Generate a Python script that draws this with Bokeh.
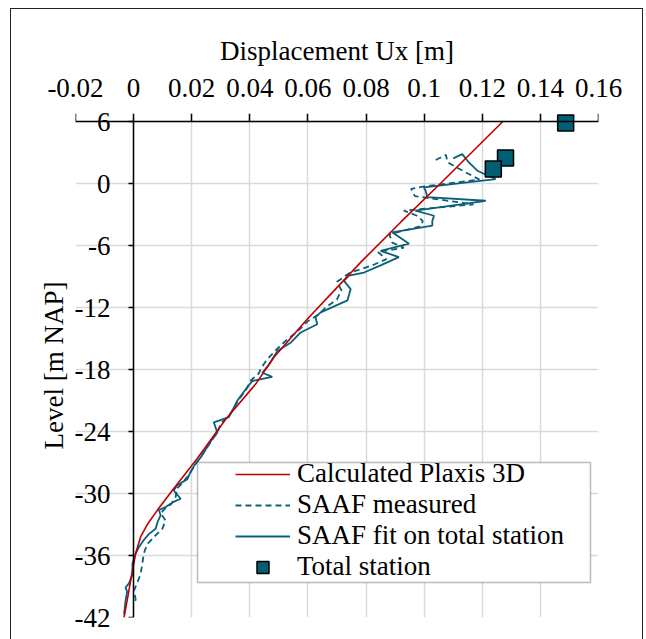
from bokeh.plotting import figure
from bokeh.models import FixedTicker, Legend, LegendItem, BoxAnnotation, Range1d, LinearAxis
from bokeh.embed import file_html
from bokeh.resources import INLINE

# ---- axis ticks / labels ----
x_ticks = [-0.02, 0, 0.02, 0.04, 0.06, 0.08, 0.1, 0.12, 0.14, 0.16]
x_tick_labels = ["-0.02", "0", "0.02", "0.04", "0.06", "0.08", "0.1", "0.12", "0.14", "0.16"]
y_ticks = [-42, -36, -30, -24, -18, -12, -6, 0, 6]
y_tick_labels = ["-42", "-36", "-30", "-24", "-18", "-12", "-6", "0", "6"]

# ---- series ----
plaxis_x = [-0.0033, -0.0020, -0.0010, 0.0007, 0.0024, 0.0047, 0.0082, 0.0133, 0.0219,
            0.0317, 0.0420, 0.0483, 0.0598, 0.0690, 0.0787, 0.0920, 0.1055, 0.1204, 0.1270]
plaxis_y = [-42.0, -40.0, -38.4, -35.8, -34.2, -33.0, -31.6, -29.7, -26.6,
            -22.8, -19.4, -16.8, -13.1, -10.35, -7.45, -3.7, 0.0, 4.16, 6.0]

saaf_meas_x = [0.1040, 0.1075, 0.1080, 0.1110, 0.1190, 0.0990, 0.0955, 0.0968, 0.1170, 0.0930,
               0.0975, 0.0995, 0.0990, 0.0880, 0.0890, 0.0930, 0.0840, 0.0870, 0.0830, 0.0780,
               0.0745, 0.0700, 0.0715, 0.0700, 0.0660, 0.0640, 0.0600, 0.0575, 0.0555, 0.0520,
               0.0490, 0.0460, 0.0440, 0.0430, 0.0405, 0.0390, 0.0360, 0.0330, 0.0300, 0.0290,
               0.0265, 0.0235, 0.0210, 0.0190, 0.0170, 0.0150, 0.0145, 0.0130, 0.0110, 0.0093,
               0.0110, 0.0099, 0.0070, 0.0047, 0.0035, 0.0030, 0.0024, 0.0013, 0.0001, 0.0007,
               0.0005]
saaf_meas_y = [2.30, 2.80, 2.10, 1.60, 0.40, -0.30, -0.50, -1.20, -2.00, -2.60,
               -3.10, -3.60, -4.10, -4.90, -5.70, -6.20, -6.60, -7.30, -7.80, -8.30,
               -8.60, -9.50, -10.30, -11.20, -12.00, -12.60, -13.30, -14.00, -14.50, -15.30,
               -16.10, -17.00, -17.80, -18.40, -19.00, -19.80, -21.00, -22.40, -23.20, -24.00,
               -25.00, -26.30, -27.30, -28.20, -28.90, -29.50, -30.30, -31.00, -31.40, -31.90,
               -32.60, -33.40, -34.20, -34.90, -35.80, -36.80, -37.80, -38.60, -39.40, -40.20,
               -40.60]

saaf_fit_x = [0.1100, 0.1131, 0.1154, 0.1183, 0.1246, 0.0999, 0.1005, 0.1011, 0.1212, 0.0970,
              0.1034, 0.1028, 0.1028, 0.0890, 0.0948, 0.0850, 0.0913, 0.0850, 0.0793, 0.0741,
              0.0724, 0.0747, 0.0736, 0.0644, 0.0626, 0.0632, 0.0575, 0.0540, 0.0495, 0.0466,
              0.0443, 0.0477, 0.0409, 0.0391, 0.0357, 0.0328, 0.0276, 0.0288, 0.0271, 0.0231,
              0.0213, 0.0196, 0.0185, 0.0150, 0.0138, 0.0162, 0.0138, 0.0110, 0.0087, 0.0093,
              0.0082, 0.0076, 0.0053, 0.0035, 0.0018, 0.0007, -0.0004, -0.0004, -0.0016, -0.0028,
              -0.0022, -0.0028, -0.0033]
saaf_fit_y = [2.45, 2.87, 2.06, 1.26, 0.45, -0.35, -0.68, -1.30, -1.65, -2.60,
              -3.10, -3.60, -4.06, -4.70, -5.80, -6.50, -7.10, -7.90, -8.60, -8.90,
              -9.40, -10.20, -11.30, -12.45, -12.90, -13.60, -14.40, -15.40, -16.20, -17.50,
              -18.30, -18.70, -19.10, -19.70, -21.00, -22.60, -23.10, -24.10, -24.70, -26.50,
              -27.10, -27.90, -28.60, -29.20, -29.70, -30.50, -30.80, -31.30, -31.60, -32.10,
              -32.80, -33.40, -33.90, -34.50, -35.20, -35.80, -36.80, -37.80, -38.70, -39.10,
              -39.50, -40.40, -41.70]

total_station_x = [0.1487, 0.1280, 0.1238]
total_station_y = [5.87, 2.49, 1.42]

FONT = "Liberation Serif"
FS = "27px"
RED = "#C00000"
TEAL = "#0A6079"

# the range runs a little past 6 so the top marker is not clipped by the frame;
# the visible x axis itself sits at level 6
p = figure(width=643, height=639,
           x_range=Range1d(-0.02, 0.16), y_range=Range1d(-42, 6.8),
           x_axis_location="above",
           output_backend="svg", toolbar_location=None,
           min_border_left=75, min_border_right=45,
           min_border_top=113, min_border_bottom=22)
p.outline_line_color = None
p.background_fill_color = "white"
p.border_fill_color = "white"
p.stylesheets = [":host::after { content: ''; position: absolute; left: 10px; top: 8px; "
                 "width: 633px; height: 631px; box-sizing: border-box; "
                 "border: 1px solid #222222; border-bottom: none; pointer-events: none; z-index: 10; }"]

# axes
xa = p.xaxis[0]
xa.ticker = FixedTicker(ticks=x_ticks)
xa.major_label_overrides = dict(zip(x_ticks, x_tick_labels))
xa.axis_label = "Displacement Ux [m]"

ya = p.yaxis[0]
ya.ticker = FixedTicker(ticks=y_ticks)
ya.major_label_overrides = dict(zip(y_ticks, y_tick_labels))
ya.axis_label = "Level [m NAP]"

for ax in (xa, ya):
    ax.axis_line_color = None
    ax.major_tick_line_color = None
    ax.major_tick_out = 0
    ax.major_tick_in = 0
    ax.minor_tick_line_color = None
    ax.major_label_text_font = FONT
    ax.major_label_text_font_size = FS
    ax.major_label_text_color = "black"
    ax.axis_label_text_font = FONT
    ax.axis_label_text_font_size = FS
    ax.axis_label_text_font_style = "normal"
    ax.axis_label_text_color = "black"

xa.major_label_standoff = 17
xa.axis_label_standoff = 10
ya.major_label_standoff = -35
ya.axis_label_standoff = 3

# axis lines with ticks: x axis at level 6, y axis crossing at x = 0
x0 = LinearAxis(fixed_location=6, ticker=FixedTicker(ticks=x_ticks),
                axis_line_color="black", axis_line_width=1.5,
                major_tick_line_color="black", major_tick_line_width=1.5,
                major_tick_in=0, major_tick_out=8, minor_tick_line_color=None,
                major_label_text_alpha=0, major_label_text_font_size="1px")
p.add_layout(x0, "above")
y0 = LinearAxis(fixed_location=0, ticker=FixedTicker(ticks=y_ticks), bounds=(-42, 6),
                axis_line_color="black", axis_line_width=1.5,
                major_tick_line_color="black", major_tick_line_width=1.5,
                major_tick_in=0, major_tick_out=5, minor_tick_line_color=None,
                major_label_text_alpha=0, major_label_text_font_size="1px")
p.add_layout(y0, "left")

p.xgrid.ticker = FixedTicker(ticks=x_ticks)
p.ygrid.ticker = FixedTicker(ticks=y_ticks)
for g in (p.xgrid, p.ygrid):
    g.grid_line_color = "#D9D9D9"
    g.grid_line_width = 1.5

# data
r_meas = p.line(saaf_meas_x, saaf_meas_y, line_color=TEAL, line_width=1.8, line_dash="6 4")
r_fit = p.line(saaf_fit_x, saaf_fit_y, line_color=TEAL, line_width=1.8)
r_plx = p.line(plaxis_x, plaxis_y, line_color=RED, line_width=1.6)
r_ts = p.scatter(total_station_x, total_station_y, marker="square", size=16,
                 fill_color="#005E75", line_color="black", line_width=1.5)

# legend box
legbox = BoxAnnotation(left=197, right=590, top=462, bottom=582,
                       left_units="canvas", right_units="canvas",
                       top_units="canvas", bottom_units="canvas",
                       fill_color="white", fill_alpha=1, line_color="#222222", line_width=1.5)
p.add_layout(legbox)

legend = Legend(items=[
    LegendItem(label="Calculated Plaxis 3D", renderers=[r_plx]),
    LegendItem(label="SAAF measured", renderers=[r_meas]),
    LegendItem(label="SAAF fit on total station", renderers=[r_fit]),
    LegendItem(label="Total station", renderers=[r_ts]),
], location=(160, 35), margin=0, padding=0, spacing=0,
   glyph_width=55, glyph_height=30, label_height=30, label_standoff=7,
   label_text_font=FONT, label_text_font_size=FS, label_text_color="black",
   border_line_alpha=0, background_fill_alpha=0)
p.add_layout(legend)

open("out.html", "w").write(file_html(p, INLINE))
